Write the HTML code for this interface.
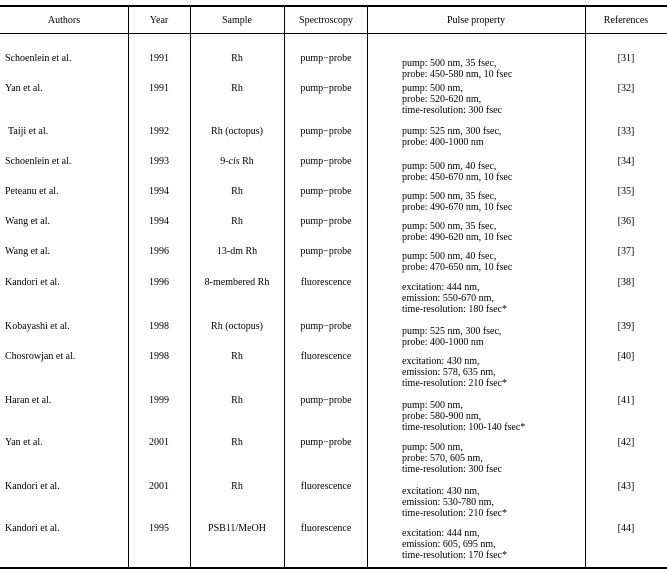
<!DOCTYPE html>
<html><head><meta charset="utf-8"><style>
body{margin:0;background:#fff;width:667px;height:573px;position:relative;overflow:hidden;font-family:"Liberation Serif",serif;font-size:10px;color:#000}
.t{position:absolute;white-space:nowrap;line-height:11px;margin-top:2px}
.c{transform:translateX(-50%)}
.h{position:absolute;left:0;width:667px;background:#000}
.v{position:absolute;top:6px;height:562px;width:1px;background:#000}
</style></head><body>
<div class="h" style="top:5px;height:2px"></div>
<div class="h" style="top:33px;height:1px"></div>
<div class="h" style="top:567px;height:2px"></div>
<div class="v" style="left:128px"></div>
<div class="v" style="left:190px"></div>
<div class="v" style="left:284px"></div>
<div class="v" style="left:367px"></div>
<div class="v" style="left:585px"></div>
<div class="t c" style="left:64px;top:13px">Authors</div>
<div class="t c" style="left:159px;top:13px">Year</div>
<div class="t c" style="left:237px;top:13px">Sample</div>
<div class="t c" style="left:326px;top:13px">Spectroscopy</div>
<div class="t c" style="left:476px;top:13px">Pulse property</div>
<div class="t c" style="left:626px;top:13px">References</div>

<div class="t" style="left:5px;top:51px">Schoenlein et al.</div><div class="t c" style="left:159px;top:51px">1991</div><div class="t c" style="left:237px;top:51px">Rh</div><div class="t c" style="left:326px;top:51px">pump−probe</div><div class="t" style="left:402px;top:56px">pump: 500 nm, 35 fsec,<br>probe: 450-580 nm, 10 fsec</div><div class="t c" style="left:626px;top:51px">[31]</div>

<div class="t" style="left:5px;top:81px">Yan et al.</div><div class="t c" style="left:159px;top:81px">1991</div><div class="t c" style="left:237px;top:81px">Rh</div><div class="t c" style="left:326px;top:81px">pump−probe</div><div class="t" style="left:402px;top:81px">pump: 500 nm,<br>probe: 520-620 nm,<br>time-resolution: 300 fsec</div><div class="t c" style="left:626px;top:81px">[32]</div>

<div class="t" style="left:8px;top:124px">Taiji et al.</div><div class="t c" style="left:159px;top:124px">1992</div><div class="t c" style="left:237px;top:124px">Rh (octopus)</div><div class="t c" style="left:326px;top:124px">pump−probe</div><div class="t" style="left:402px;top:124px">pump: 525 nm, 300 fsec,<br>probe: 400-1000 nm</div><div class="t c" style="left:626px;top:124px">[33]</div>

<div class="t" style="left:5px;top:154px">Schoenlein et al.</div><div class="t c" style="left:159px;top:154px">1993</div><div class="t c" style="left:237px;top:154px">9-<i>cis</i> Rh</div><div class="t c" style="left:326px;top:154px">pump−probe</div><div class="t" style="left:402px;top:159px">pump: 500 nm, 40 fsec,<br>probe: 450-670 nm, 10 fsec</div><div class="t c" style="left:626px;top:154px">[34]</div>

<div class="t" style="left:5px;top:184px">Peteanu et al.</div><div class="t c" style="left:159px;top:184px">1994</div><div class="t c" style="left:237px;top:184px">Rh</div><div class="t c" style="left:326px;top:184px">pump−probe</div><div class="t" style="left:402px;top:189px">pump: 500 nm, 35 fsec,<br>probe: 490-670 nm, 10 fsec</div><div class="t c" style="left:626px;top:184px">[35]</div>

<div class="t" style="left:5px;top:214px">Wang et al.</div><div class="t c" style="left:159px;top:214px">1994</div><div class="t c" style="left:237px;top:214px">Rh</div><div class="t c" style="left:326px;top:214px">pump−probe</div><div class="t" style="left:402px;top:219px">pump: 500 nm, 35 fsec,<br>probe: 490-620 nm, 10 fsec</div><div class="t c" style="left:626px;top:214px">[36]</div>

<div class="t" style="left:5px;top:244px">Wang et al.</div><div class="t c" style="left:159px;top:244px">1996</div><div class="t c" style="left:237px;top:244px">13-dm Rh</div><div class="t c" style="left:326px;top:244px">pump−probe</div><div class="t" style="left:402px;top:249px">pump: 500 nm, 40 fsec,<br>probe: 470-650 nm, 10 fsec</div><div class="t c" style="left:626px;top:244px">[37]</div>

<div class="t" style="left:5px;top:275px">Kandori et al.</div><div class="t c" style="left:159px;top:275px">1996</div><div class="t c" style="left:237px;top:275px">8-membered Rh</div><div class="t c" style="left:326px;top:275px">fluorescence</div><div class="t" style="left:402px;top:280px">excitation: 444 nm,<br>emission: 550-670 nm,<br>time-resolution: 180 fsec*</div><div class="t c" style="left:626px;top:275px">[38]</div>

<div class="t" style="left:5px;top:319px">Kobayashi et al.</div><div class="t c" style="left:159px;top:319px">1998</div><div class="t c" style="left:237px;top:319px">Rh (octopus)</div><div class="t c" style="left:326px;top:319px">pump−probe</div><div class="t" style="left:402px;top:324px">pump: 525 nm, 300 fsec,<br>probe: 400-1000 nm</div><div class="t c" style="left:626px;top:319px">[39]</div>

<div class="t" style="left:5px;top:349px">Chosrowjan et al.</div><div class="t c" style="left:159px;top:349px">1998</div><div class="t c" style="left:237px;top:349px">Rh</div><div class="t c" style="left:326px;top:349px">fluorescence</div><div class="t" style="left:402px;top:354px">excitation: 430 nm,<br>emission: 578, 635 nm,<br>time-resolution: 210 fsec*</div><div class="t c" style="left:626px;top:349px">[40]</div>

<div class="t" style="left:5px;top:393px">Haran et al.</div><div class="t c" style="left:159px;top:393px">1999</div><div class="t c" style="left:237px;top:393px">Rh</div><div class="t c" style="left:326px;top:393px">pump−probe</div><div class="t" style="left:402px;top:398px">pump: 500 nm,<br>probe: 580-900 nm,<br>time-resolution: 100-140 fsec*</div><div class="t c" style="left:626px;top:393px">[41]</div>

<div class="t" style="left:5px;top:435px">Yan et al.</div><div class="t c" style="left:159px;top:435px">2001</div><div class="t c" style="left:237px;top:435px">Rh</div><div class="t c" style="left:326px;top:435px">pump−probe</div><div class="t" style="left:402px;top:440px">pump: 500 nm,<br>probe: 570, 605 nm,<br>time-resolution: 300 fsec</div><div class="t c" style="left:626px;top:435px">[42]</div>

<div class="t" style="left:5px;top:479px">Kandori et al.</div><div class="t c" style="left:159px;top:479px">2001</div><div class="t c" style="left:237px;top:479px">Rh</div><div class="t c" style="left:326px;top:479px">fluorescence</div><div class="t" style="left:402px;top:484px">excitation: 430 nm,<br>emission: 530-780 nm,<br>time-resolution: 210 fsec*</div><div class="t c" style="left:626px;top:479px">[43]</div>

<div class="t" style="left:5px;top:521px">Kandori et al.</div><div class="t c" style="left:159px;top:521px">1995</div><div class="t c" style="left:237px;top:521px">PSB11/MeOH</div><div class="t c" style="left:326px;top:521px">fluorescence</div><div class="t" style="left:402px;top:526px">excitation: 444 nm,<br>emission: 605, 695 nm,<br>time-resolution: 170 fsec*</div><div class="t c" style="left:626px;top:521px">[44]</div>
</body></html>
